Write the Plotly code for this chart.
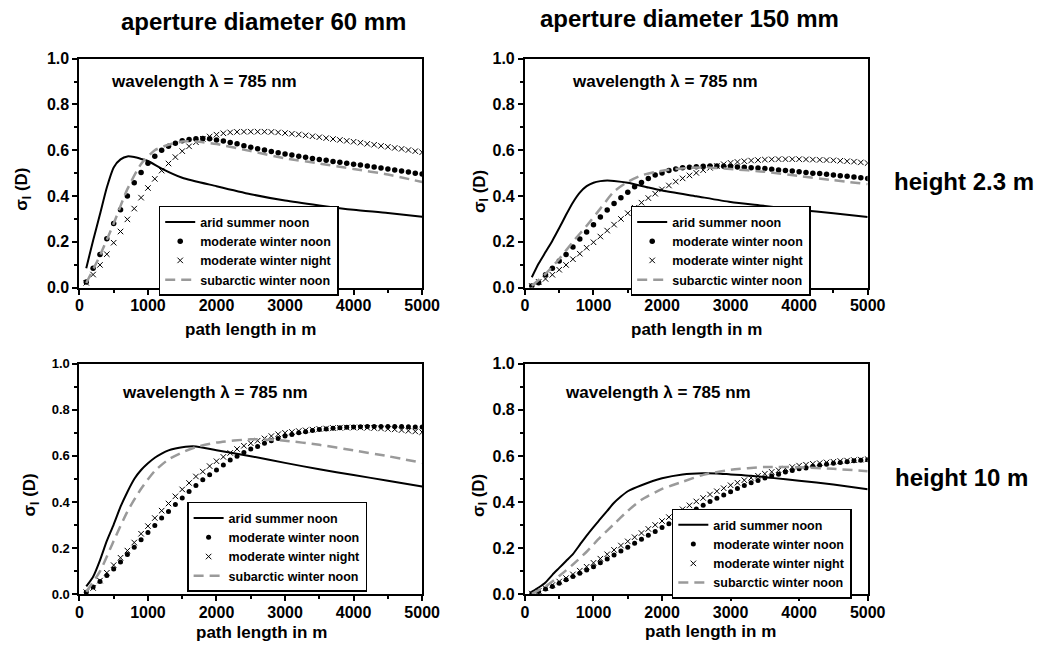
import plotly.graph_objects as go

W, H = 1059, 659

# ---------------- data ----------------
dist_marker = list(range(100, 5001, 100))

# top-left: aperture 60 mm, height 2.3 m
tl_arid_x = [100, 200, 300, 400, 500, 600, 700, 800, 900, 1000, 1200, 1500, 2000, 2500, 3000, 3500, 4000, 4500, 5000]
tl_arid_y = [0.085, 0.206, 0.32, 0.437, 0.525, 0.56, 0.573, 0.57, 0.562, 0.553, 0.52, 0.48, 0.443, 0.408, 0.38, 0.359, 0.34, 0.326, 0.309]
tl_mwnoon = [0.024, 0.085, 0.145, 0.213, 0.28, 0.34, 0.40, 0.458, 0.503, 0.543, 0.574, 0.60, 0.617, 0.631, 0.641, 0.647, 0.650, 0.651, 0.650, 0.645,
             0.640, 0.634, 0.628, 0.620, 0.613, 0.607, 0.601, 0.595, 0.589, 0.584, 0.579, 0.574, 0.569, 0.564, 0.560, 0.556, 0.551, 0.547, 0.543, 0.539,
             0.535, 0.531, 0.527, 0.522, 0.518, 0.514, 0.509, 0.505, 0.500, 0.496]
tl_mwnight = [0.021, 0.057, 0.099, 0.146, 0.196, 0.245, 0.298, 0.345, 0.393, 0.435, 0.475, 0.511, 0.542, 0.570, 0.596, 0.617, 0.635, 0.650, 0.660, 0.668,
              0.674, 0.678, 0.680, 0.681, 0.681, 0.681, 0.681, 0.680, 0.678, 0.675, 0.672, 0.669, 0.665, 0.661, 0.657, 0.653, 0.649, 0.645, 0.641, 0.637,
              0.633, 0.628, 0.624, 0.619, 0.615, 0.610, 0.606, 0.601, 0.596, 0.591]
tl_sub_x = [100, 300, 500, 700, 900, 1100, 1300, 1500, 1700, 2000, 2500, 3000, 3500, 4000, 4500, 5000]
tl_sub_y = [0.02, 0.14, 0.28, 0.43, 0.54, 0.60, 0.624, 0.638, 0.638, 0.627, 0.596, 0.565, 0.542, 0.518, 0.494, 0.461]

# top-right: aperture 150 mm, height 2.3 m
tr_arid_x = [100, 200, 300, 400, 500, 600, 700, 800, 900, 1000, 1100, 1200, 1300, 1500, 1800, 2000, 2500, 3000, 3500, 4000, 4500, 5000]
tr_arid_y = [0.045, 0.105, 0.155, 0.205, 0.26, 0.318, 0.372, 0.415, 0.443, 0.458, 0.465, 0.468, 0.466, 0.458, 0.437, 0.424, 0.399, 0.374, 0.357, 0.339, 0.325, 0.308]
tr_mwnoon = [0.007, 0.021, 0.056, 0.085, 0.116, 0.145, 0.177, 0.212, 0.243, 0.275, 0.308, 0.339, 0.367, 0.393, 0.417, 0.440, 0.459, 0.477, 0.492, 0.501,
             0.511, 0.518, 0.523, 0.526, 0.528, 0.530, 0.531, 0.531, 0.530, 0.529, 0.527, 0.526, 0.524, 0.522, 0.520, 0.517, 0.514, 0.511, 0.509, 0.506,
             0.503, 0.500, 0.498, 0.495, 0.492, 0.489, 0.486, 0.483, 0.480, 0.477]
tr_mwnight = [0.007, 0.025, 0.038, 0.056, 0.078, 0.099, 0.124, 0.148, 0.174, 0.198, 0.223, 0.249, 0.275, 0.300, 0.325, 0.349, 0.371, 0.391, 0.410, 0.429,
              0.446, 0.463, 0.477, 0.490, 0.501, 0.513, 0.523, 0.531, 0.539, 0.545, 0.549, 0.552, 0.555, 0.557, 0.559, 0.560, 0.561, 0.561, 0.561, 0.561,
              0.560, 0.559, 0.558, 0.557, 0.556, 0.554, 0.552, 0.550, 0.547, 0.544]
tr_sub_x = [100, 300, 500, 700, 900, 1100, 1300, 1500, 1700, 1900, 2100, 2400, 2700, 3000, 3500, 4000, 4500, 5000]
tr_sub_y = [0.008, 0.06, 0.125, 0.2, 0.27, 0.345, 0.42, 0.462, 0.49, 0.505, 0.515, 0.523, 0.524, 0.518, 0.506, 0.487, 0.469, 0.452]

# bottom-left: aperture 60 mm, height 10 m
bl_arid_x = [100, 200, 300, 400, 500, 600, 700, 800, 900, 1000, 1100, 1200, 1300, 1400, 1500, 1600, 1700, 2000, 2500, 3000, 3500, 4000, 4500, 5000]
bl_arid_y = [0.035, 0.077, 0.148, 0.232, 0.303, 0.38, 0.444, 0.5, 0.539, 0.568, 0.592, 0.61, 0.624, 0.632, 0.638, 0.641, 0.641, 0.625, 0.599, 0.57, 0.542, 0.517, 0.493, 0.468]
bl_mwnoon = [0.010, 0.032, 0.056, 0.082, 0.110, 0.141, 0.173, 0.204, 0.237, 0.268, 0.299, 0.331, 0.359, 0.390, 0.418, 0.446, 0.472, 0.497, 0.518, 0.539,
             0.561, 0.582, 0.599, 0.615, 0.630, 0.641, 0.655, 0.666, 0.676, 0.686, 0.693, 0.700, 0.705, 0.710, 0.714, 0.717, 0.720, 0.722, 0.724, 0.725,
             0.726, 0.727, 0.728, 0.728, 0.728, 0.727, 0.727, 0.726, 0.725, 0.725]
bl_mwnight = [0.010, 0.028, 0.060, 0.094, 0.127, 0.159, 0.190, 0.225, 0.263, 0.296, 0.331, 0.363, 0.394, 0.425, 0.455, 0.483, 0.511, 0.532, 0.556, 0.577,
              0.596, 0.613, 0.630, 0.644, 0.655, 0.666, 0.676, 0.686, 0.694, 0.700, 0.704, 0.708, 0.711, 0.714, 0.717, 0.719, 0.721, 0.722, 0.723, 0.723,
              0.723, 0.722, 0.721, 0.719, 0.717, 0.715, 0.712, 0.709, 0.706, 0.703]
bl_sub_x = [100, 300, 500, 700, 900, 1100, 1300, 1500, 1700, 2000, 2500, 3000, 3500, 4000, 4500, 5000]
bl_sub_y = [0.012, 0.10, 0.232, 0.359, 0.458, 0.535, 0.585, 0.615, 0.638, 0.658, 0.672, 0.666, 0.648, 0.624, 0.599, 0.57]

# bottom-right: aperture 150 mm, height 10 m
br_arid_x = [100, 200, 300, 400, 500, 600, 700, 800, 900, 1000, 1100, 1200, 1300, 1400, 1500, 1700, 2000, 2300, 2600, 2800, 3000, 3300, 3600, 4000, 4500, 5000]
br_arid_y = [0.012, 0.03, 0.052, 0.085, 0.115, 0.145, 0.175, 0.215, 0.255, 0.292, 0.327, 0.362, 0.397, 0.424, 0.447, 0.473, 0.503, 0.52, 0.525, 0.524, 0.52, 0.514, 0.505, 0.493, 0.476, 0.456]
br_mwnoon = [0.004, 0.013, 0.024, 0.035, 0.049, 0.064, 0.078, 0.092, 0.106, 0.120, 0.137, 0.154, 0.171, 0.188, 0.205, 0.222, 0.239, 0.256, 0.273, 0.290,
             0.306, 0.321, 0.338, 0.353, 0.370, 0.386, 0.403, 0.417, 0.431, 0.445, 0.459, 0.472, 0.484, 0.494, 0.504, 0.513, 0.521, 0.530, 0.537, 0.544,
             0.548, 0.555, 0.560, 0.564, 0.568, 0.572, 0.575, 0.579, 0.581, 0.583]
br_mwnight = [0.004, 0.015, 0.027, 0.041, 0.056, 0.071, 0.087, 0.103, 0.120, 0.137, 0.155, 0.174, 0.193, 0.212, 0.230, 0.248, 0.266, 0.284, 0.301, 0.318,
              0.335, 0.352, 0.369, 0.386, 0.403, 0.418, 0.433, 0.447, 0.460, 0.473, 0.484, 0.495, 0.505, 0.514, 0.523, 0.531, 0.538, 0.545, 0.552, 0.558,
              0.562, 0.566, 0.569, 0.572, 0.575, 0.578, 0.580, 0.582, 0.584, 0.586]
br_sub_x = [100, 300, 500, 700, 900, 1100, 1300, 1500, 1700, 2000, 2300, 2600, 3000, 3500, 4000, 4500, 5000]
br_sub_y = [0.003, 0.035, 0.08, 0.13, 0.185, 0.248, 0.305, 0.362, 0.41, 0.457, 0.488, 0.518, 0.54, 0.552, 0.551, 0.544, 0.534]

series_names = ["arid summer noon", "moderate winter noon", "moderate winter night", "subarctic winter noon"]
col_titles = ["aperture diameter 60 mm", "aperture diameter 150 mm"]
row_titles = ["height 2.3 m", "height 10 m"]
x_ticks = [0, 1000, 2000, 3000, 4000, 5000]
y_ticks = [0.0, 0.2, 0.4, 0.6, 0.8, 1.0]

panels = [
    (tl_arid_x, tl_arid_y, tl_mwnoon, tl_mwnight, tl_sub_x, tl_sub_y),
    (tr_arid_x, tr_arid_y, tr_mwnoon, tr_mwnight, tr_sub_x, tr_sub_y),
    (bl_arid_x, bl_arid_y, bl_mwnoon, bl_mwnight, bl_sub_x, bl_sub_y),
    (br_arid_x, br_arid_y, br_mwnoon, br_mwnight, br_sub_x, br_sub_y),
]

# ---------------- layout geometry (pixels) ----------------
FONT = "Liberation Sans, Arial, Helvetica, sans-serif"
col_px = [(77, 427), (532, 882)]
row_px = [(52, 287), (365, 602)]
ytick_size = [16, 16, 13, 16]
dot_size = [5.5, 5.5, 5, 5]
legend_pos = [(158, 203), (640, 203), (187, 507), (682, 514)]
wl_pos = [(107, 75), (578, 75), (118, 395), (571, 395)]
ytitle_pos = [(20, 186), (487, 188), (28, 500), (486, 500)]
xtitle_pos = [(252, 330), (707, 330), (263, 641), (721, 640)]

fig = go.Figure()

for i, (ax, ay, mnoon, mnight, sx, sy) in enumerate(panels):
    sfx = "" if i == 0 else str(i + 1)
    xa, ya = "x" + sfx, "y" + sfx
    lg = "legend" + sfx
    fig.add_trace(go.Scatter(x=ax, y=ay, mode="lines", name=series_names[0],
                             line=dict(color="black", width=2, shape="spline", smoothing=0.6),
                             xaxis=xa, yaxis=ya, legend=lg))
    fig.add_trace(go.Scatter(x=dist_marker, y=mnoon, mode="markers", name=series_names[1],
                             marker=dict(symbol="circle", size=dot_size[i], color="black"),
                             xaxis=xa, yaxis=ya, legend=lg))
    fig.add_trace(go.Scatter(x=dist_marker, y=mnight, mode="markers", name=series_names[2],
                             marker=dict(symbol="x-thin", size=5.5, color="black",
                                         line=dict(color="black", width=1)),
                             xaxis=xa, yaxis=ya, legend=lg))
    fig.add_trace(go.Scatter(x=sx, y=sy, mode="lines", name=series_names[3],
                             line=dict(color="#9a9a9a", width=2.5, dash="10px,6px", shape="spline", smoothing=0.6),
                             xaxis=xa, yaxis=ya, legend=lg))

    c, r = i % 2, i // 2
    x0, x1 = col_px[c]
    y0, y1 = row_px[r]
    common = dict(showline=True, linecolor="black", linewidth=2, mirror=True,
                  ticks="outside", tickcolor="black", tickwidth=2, ticklen=5,
                  showgrid=False, zeroline=False)
    fig.update_layout(**{
        "xaxis" + sfx: dict(domain=[x0 / W, x1 / W], anchor=ya, range=[0, 5000],
                            tickvals=x_ticks, ticktext=[str(v) for v in x_ticks],
                            ticklabelstandoff=-3,
                            minor=dict(ticks="outside", dtick=500, ticklen=3, tickcolor="black", tickwidth=1.5),
                            tickfont=dict(family=FONT, size=16, color="black", weight="bold"), **common),
        "yaxis" + sfx: dict(domain=[1 - y1 / H, 1 - y0 / H], anchor=xa, range=[0, 1.0],
                            tickvals=y_ticks, ticktext=["%.1f" % v for v in y_ticks],
                            minor=dict(ticks="outside", dtick=0.1, ticklen=3, tickcolor="black", tickwidth=1.5),
                            tickfont=dict(family=FONT, size=ytick_size[i], color="black", weight="bold"), **common),
        lg: dict(x=legend_pos[i][0] / W, y=1 - legend_pos[i][1] / H, xanchor="left", yanchor="top",
                 bordercolor="black", borderwidth=1.5, bgcolor="white", tracegroupgap=0,
                 font=dict(family=FONT, size=12.5, color="black", weight="bold"),
                 itemwidth=30),
    })

annotations = []
for i in range(4):
    annotations.append(dict(text="wavelength λ = 785 nm", x=wl_pos[i][0] / W, y=1 - wl_pos[i][1] / H,
                            xref="paper", yref="paper", xanchor="left", yanchor="middle", showarrow=False,
                            font=dict(family=FONT, size=17, color="black", weight="bold")))
    annotations.append(dict(text="σ<sub>I</sub> (D)", x=ytitle_pos[i][0] / W, y=1 - ytitle_pos[i][1] / H,
                            xref="paper", yref="paper", xanchor="center", yanchor="middle", textangle=-90,
                            showarrow=False, font=dict(family=FONT, size=17, color="black", weight="bold")))
    annotations.append(dict(text="path length in m", x=xtitle_pos[i][0] / W, y=1 - xtitle_pos[i][1] / H,
                            xref="paper", yref="paper", xanchor="center", yanchor="middle", showarrow=False,
                            font=dict(family=FONT, size=17, color="black", weight="bold")))

for txt, (px, py) in zip(col_titles, [(265, 14), (700, 11)]):
    annotations.append(dict(text=txt, x=px / W, y=1 - py / H, xref="paper", yref="paper",
                            xanchor="center", yanchor="middle", showarrow=False,
                            font=dict(family=FONT, size=24, color="black", weight="bold")))
for txt, (px, py) in zip(row_titles, [(980, 178), (978, 482)]):
    annotations.append(dict(text=txt, x=px / W, y=1 - py / H, xref="paper", yref="paper",
                            xanchor="center", yanchor="middle", showarrow=False,
                            font=dict(family=FONT, size=24, color="black", weight="bold")))

fig.update_layout(width=W, height=H, margin=dict(l=0, r=0, t=0, b=0),
                  paper_bgcolor="white", plot_bgcolor="white",
                  annotations=annotations, showlegend=True)

fig.write_html("out.html")
